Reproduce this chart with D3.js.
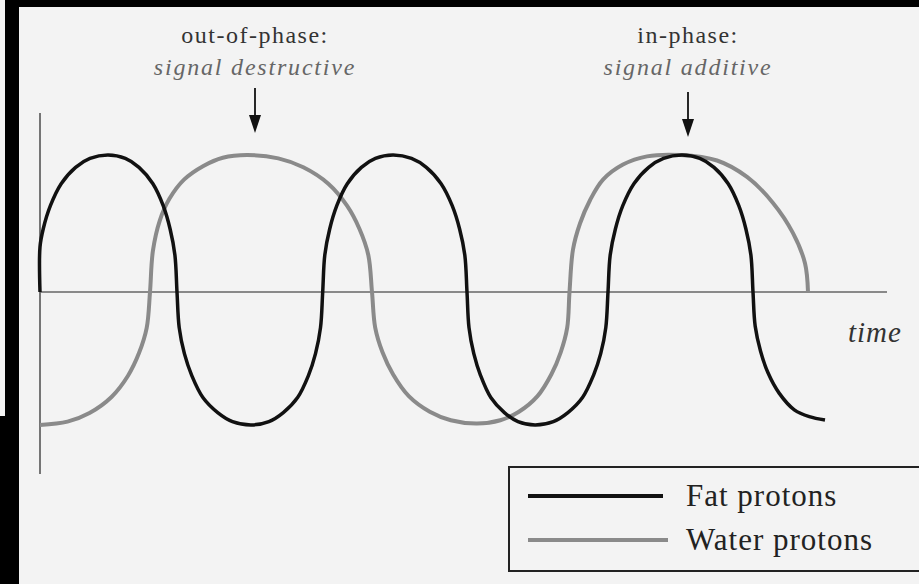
<!DOCTYPE html>
<html>
<head>
<meta charset="utf-8">
<script src="https://cdn.jsdelivr.net/npm/d3@7"></script>
<style>
  body { margin: 0; background: #f3f3f3; }
  text { font-family: "Liberation Serif", "DejaVu Serif", serif; }
</style>
</head>
<body>
<div id="chart"></div>
<script>
// curve points: [time, signal]
var fatPoints = [
  [0,0],[0,0.33],[0.32,0.46],[1.04,0.63],[2.12,0.79],[3.56,0.91],[5.0,0.975],[6.8,1.0],[8.53,0.975],[9.9,0.91],[11.29,0.79],[12.32,0.63],[13.01,0.46],[13.49,0.27],[13.7,0],
  [13.92,-0.26],[14.44,-0.45],[15.18,-0.61],[16.29,-0.77],[17.77,-0.88],[19.25,-0.946],[21.1,-0.97],[22.89,-0.946],[24.33,-0.88],[25.76,-0.77],[26.84,-0.61],[27.55,-0.45],[28.05,-0.26],[28.27,0],
  [28.48,0.27],[28.97,0.46],[29.68,0.63],[30.73,0.79],[32.14,0.91],[33.54,0.975],[35.3,1.0],[37.15,0.975],[38.63,0.91],[40.11,0.79],[41.22,0.63],[41.96,0.46],[42.48,0.27],[42.7,0],
  [42.9,-0.26],[43.38,-0.45],[44.06,-0.61],[45.08,-0.77],[46.44,-0.88],[47.8,-0.946],[49.5,-0.97],[51.33,-0.946],[52.79,-0.88],[54.25,-0.77],[55.34,-0.61],[56.07,-0.45],[56.58,-0.26],[56.8,0],
  [57.02,0.27],[57.54,0.46],[58.28,0.63],[59.39,0.79],[60.87,0.91],[62.35,0.975],[64.2,1.0],[65.98,0.975],[67.4,0.91],[68.82,0.79],[69.88,0.63],[70.59,0.46],[71.09,0.27],[71.3,0],
  [71.52,-0.25],[72.05,-0.43],[72.8,-0.59],[73.93,-0.74],[75.43,-0.86],[76.93,-0.91],[78.5,-0.935]
];
var waterPoints = [
  [0,-0.97],[2.75,-0.946],[4.95,-0.883],[7.15,-0.766],[8.8,-0.611],[9.9,-0.446],[10.67,-0.262],[11,0],
  [11.29,0.3],[11.97,0.52],[12.94,0.68],[14.4,0.82],[16.34,0.92],[18.28,0.98],[20.7,1.0],[23.83,0.975],[26.33,0.91],[28.83,0.79],[30.7,0.63],[31.95,0.46],[32.83,0.27],[33.2,0],
  [33.52,-0.26],[34.25,-0.44],[35.3,-0.6],[36.88,-0.76],[38.98,-0.874],[41.08,-0.936],[43.7,-0.96],[46.03,-0.936],[47.89,-0.874],[49.75,-0.76],[51.14,-0.6],[52.07,-0.44],[52.72,-0.26],[52.95,0],
  [53.3,0.31],[54,0.5],[55,0.67],[56.3,0.82],[58.3,0.93],[60.7,0.99],[64,1.0],[67.7,0.96],[70.7,0.84],[73.3,0.65],[75.3,0.43],[76.5,0.21],[76.8,0]
];
var seriesNames = ["Fat protons", "Water protons"];
var seriesColors = ["#111111", "#8a8a8a"];
var annotTimes = [21.5, 64.8];
var annotTop = ["out-of-phase:", "in-phase:"];
var annotSub = ["signal destructive", "signal additive"];
var axisLabel = "time";

var width = 919, height = 584;

var svg = d3.select("#chart").append("svg")
    .attr("width", width)
    .attr("height", height);

// background + black photo frame
svg.append("rect").attr("width", width).attr("height", height).attr("fill", "#f3f3f3");
svg.append("rect").attr("x", 5).attr("y", 0).attr("width", 14).attr("height", height).attr("fill", "#000");
svg.append("rect").attr("x", 5).attr("y", 0).attr("width", width).attr("height", 7).attr("fill", "#000");
svg.append("rect").attr("x", 0).attr("y", 416).attr("width", 6).attr("height", height - 416).attr("fill", "#000");

var x = d3.scaleLinear().domain([0, 84.7]).range([40, 887]);
var y = d3.scaleLinear().domain([-1, 1]).range([429, 155]);

// axes
svg.append("line")
    .attr("x1", x(0)).attr("x2", x(0))
    .attr("y1", 113).attr("y2", 474)
    .attr("stroke", "#555").attr("stroke-width", 1.6);
svg.append("line")
    .attr("x1", x(0)).attr("x2", x(84.7))
    .attr("y1", y(0)).attr("y2", y(0))
    .attr("stroke", "#666").attr("stroke-width", 1.3);

svg.append("text")
    .attr("x", 848).attr("y", 342)
    .attr("font-size", 29).attr("font-style", "italic")
    .attr("fill", "#333").attr("letter-spacing", 1)
    .text(axisLabel);

var line = d3.line()
    .x(function(d) { return x(d[0]); })
    .y(function(d) { return y(d[1]); })
    .curve(d3.curveCatmullRom.alpha(0.5));

svg.append("path").datum(waterPoints)
    .attr("d", line)
    .attr("fill", "none").attr("stroke", seriesColors[1]).attr("stroke-width", 4);
svg.append("path").datum(fatPoints)
    .attr("d", line)
    .attr("fill", "none").attr("stroke", seriesColors[0]).attr("stroke-width", 3.5);

// annotations with arrows
annotTimes.forEach(function(t, i) {
    var cx = x(t);
    var top = i == 0 ? 88 : 92;
    var tip = i == 0 ? 133 : 137;
    svg.append("text")
        .attr("x", cx).attr("y", 43)
        .attr("text-anchor", "middle")
        .attr("font-size", 24).attr("letter-spacing", 1.5)
        .attr("fill", "#333")
        .text(annotTop[i]);
    svg.append("text")
        .attr("x", cx).attr("y", 75)
        .attr("text-anchor", "middle")
        .attr("font-size", 24).attr("font-style", "italic").attr("letter-spacing", 1.8)
        .attr("fill", "#666")
        .text(annotSub[i]);
    svg.append("line")
        .attr("x1", cx).attr("x2", cx)
        .attr("y1", top).attr("y2", tip - 14)
        .attr("stroke", "#111").attr("stroke-width", 1.8);
    svg.append("path")
        .attr("d", "M" + (cx - 6) + "," + (tip - 18) + "L" + (cx + 6) + "," + (tip - 18) + "L" + cx + "," + tip + "Z")
        .attr("fill", "#111");
});

// legend
var legend = svg.append("g");
legend.append("rect")
    .attr("x", 509).attr("y", 467)
    .attr("width", 430).attr("height", 104)
    .attr("fill", "none").attr("stroke", "#222").attr("stroke-width", 2);
seriesNames.forEach(function(name, i) {
    var ly = i == 0 ? 496 : 540;
    legend.append("line")
        .attr("x1", 528).attr("x2", i == 0 ? 663 : 668)
        .attr("y1", ly).attr("y2", ly)
        .attr("stroke", seriesColors[i]).attr("stroke-width", 4);
    legend.append("text")
        .attr("x", 686).attr("y", ly + 10)
        .attr("font-size", 31).attr("letter-spacing", 1)
        .attr("fill", "#222")
        .text(name);
});
</script>
</body>
</html>
